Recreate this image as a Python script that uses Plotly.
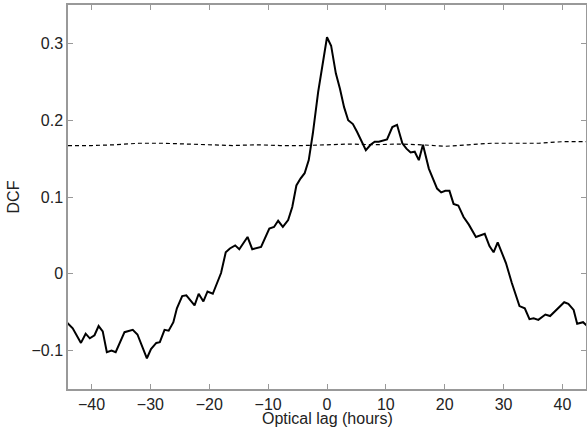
import plotly.graph_objects as go

lag = [-44.1,-43.2,-41.8,-41.0,-40.3,-39.5,-38.8,-38.1,-37.4,-36.6,-35.9,-34.4,-33.0,-32.2,-30.6,-29.9,-29.0,-28.4,-27.6,-26.9,-26.1,-25.5,-24.6,-23.9,-22.5,-21.8,-21.0,-20.3,-19.4,-18.0,-17.2,-16.5,-15.6,-14.9,-13.5,-12.7,-11.2,-9.8,-9.0,-8.3,-7.5,-6.6,-5.9,-5.2,-4.5,-3.8,-3.1,-2.4,-1.5,-0.8,0.0,0.7,1.5,2.2,2.9,3.6,4.4,5.1,6.6,7.4,8.1,8.8,10.2,11.1,11.9,12.8,13.5,14.2,14.9,15.6,16.3,17.3,18.7,19.4,20.1,20.8,21.5,22.3,23.2,24.1,25.3,26.8,27.6,28.3,29.0,30.4,31.4,32.7,33.6,34.4,35.1,35.9,37.1,37.9,38.8,40.3,41.0,41.9,42.5,43.5,44.2]
dcf = [-0.064,-0.071,-0.090,-0.078,-0.084,-0.080,-0.068,-0.075,-0.102,-0.100,-0.102,-0.076,-0.073,-0.079,-0.110,-0.098,-0.090,-0.089,-0.073,-0.074,-0.063,-0.045,-0.029,-0.028,-0.041,-0.026,-0.036,-0.023,-0.026,0.001,0.028,0.033,0.037,0.032,0.048,0.032,0.035,0.059,0.061,0.069,0.061,0.070,0.087,0.115,0.124,0.131,0.148,0.183,0.237,0.269,0.308,0.297,0.261,0.241,0.217,0.200,0.195,0.185,0.161,0.168,0.172,0.172,0.175,0.191,0.194,0.170,0.163,0.158,0.159,0.148,0.168,0.137,0.111,0.106,0.108,0.108,0.091,0.089,0.074,0.064,0.048,0.052,0.036,0.028,0.041,0.014,-0.012,-0.042,-0.045,-0.059,-0.058,-0.060,-0.053,-0.055,-0.048,-0.037,-0.039,-0.047,-0.065,-0.063,-0.068]
sig_lag = [-44,-40,-36,-32,-28,-24,-20,-16,-12,-8,-4,0,4,8,12,16,20,24,28,32,36,40,44]
sig = [0.167,0.167,0.168,0.170,0.170,0.169,0.168,0.167,0.168,0.167,0.167,0.168,0.169,0.168,0.169,0.168,0.166,0.168,0.170,0.170,0.170,0.172,0.172]
xticks = [-40,-30,-20,-10,0,10,20,30,40]
yticks = [-0.1,0,0.1,0.2,0.3]
yticktext = ["\u22120.1","0","0.1","0.2","0.3"]

fig = go.Figure()
fig.add_trace(go.Scatter(x=sig_lag, y=sig, mode="lines", line=dict(color="black", width=1.2, dash="4px,3px")))
fig.add_trace(go.Scatter(x=lag, y=dcf, mode="lines", line=dict(color="black", width=2)))
ax = dict(showgrid=False, zeroline=False, showline=True, mirror="ticks", linecolor="#999999", linewidth=1.5,
          ticks="inside", ticklen=5, tickcolor="#999999", automargin=False,
          tickfont=dict(size=16, color="#222222"))
fig.update_layout(
    width=587, height=428, showlegend=False, plot_bgcolor="white", paper_bgcolor="white",
    font=dict(family="Liberation Sans", color="#222222"),
    margin=dict(l=68, r=1, t=5, b=39),
    xaxis=dict(ax, range=[-44, 44], tickvals=xticks, ticktext=[str(v).replace("-", "\u2212") for v in xticks]),
    yaxis=dict(ax, range=[-0.15, 0.35], tickvals=yticks, ticktext=yticktext,
               title=dict(text="DCF", font=dict(size=16), standoff=8)),
    annotations=[dict(text="Optical lag (hours)", xref="paper", yref="paper", x=0.5, y=0, yshift=-40,
                      yanchor="bottom", showarrow=False, font=dict(size=16, color="#222222"))],
)
fig.write_html("out.html", config={"displayModeBar": False},
               post_script="document.body.style.margin='0';window.dispatchEvent(new Event('resize'));")
